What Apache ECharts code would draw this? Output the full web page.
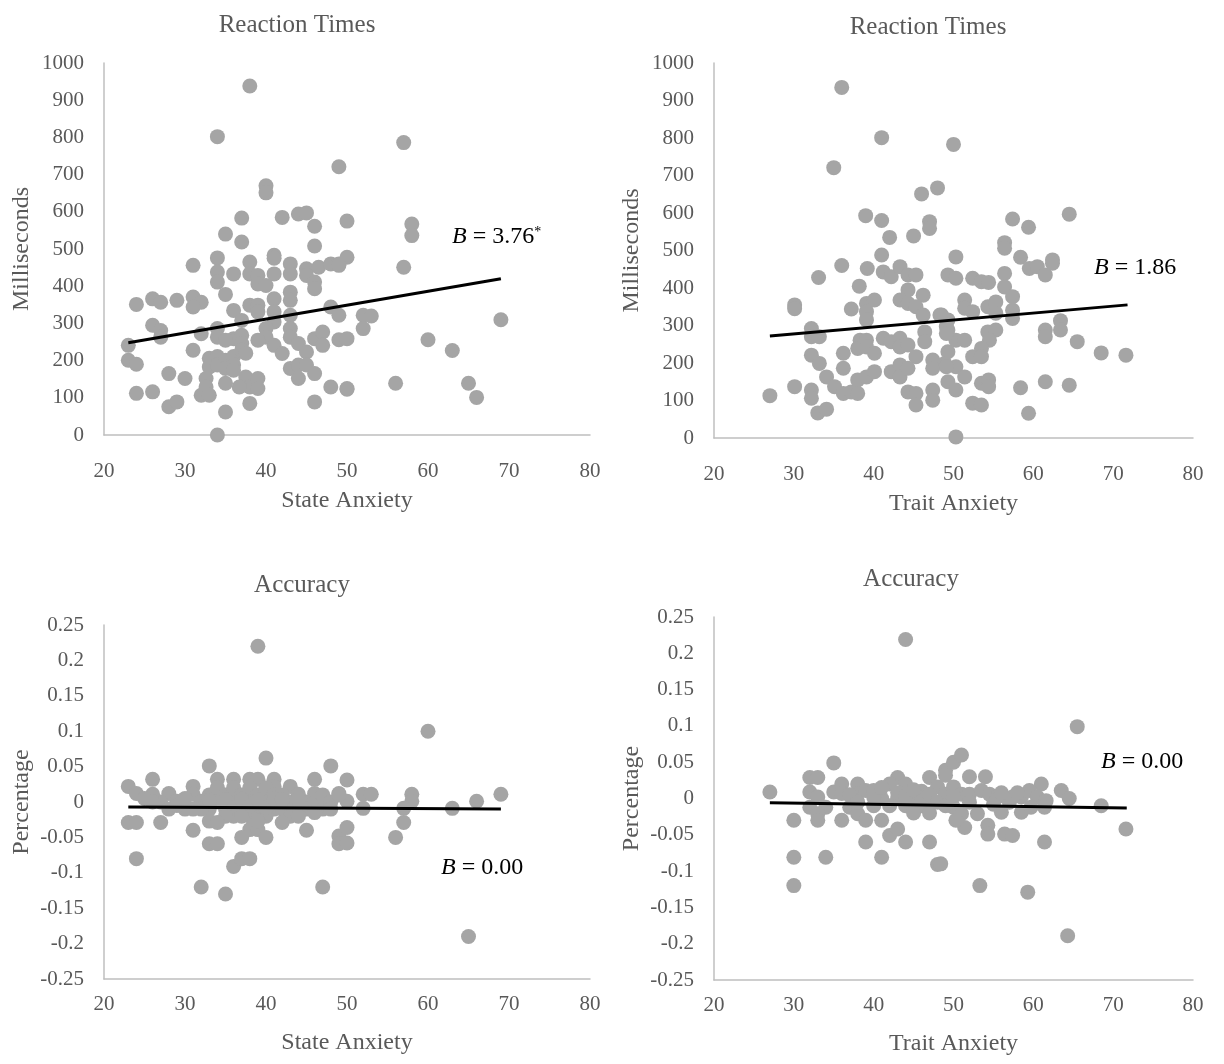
<!DOCTYPE html>
<html><head><meta charset="utf-8">
<script src="https://cdn.jsdelivr.net/npm/echarts@6/dist/echarts.min.js"></script>
<style>html,body{margin:0;padding:0;background:#fff}#c{width:1224px;height:1064px}</style>
</head><body><div id="c"></div>
<script>
// State anxiety vs reaction time (ms)
const stateRT = [[38,938],[34,802],[57,786],[49,721],[40,670],[40,651],[37,583],[42,585],[44,594],[45,597],[46,561],[50,575],[35,540],[37,519],[46,508],[58,567],[58,536],[34,476],[38,465],[41,483],[41,475],[43,460],[45,447],[46.5,451],[48,460],[49,460],[50,478],[49,456],[57,451],[31,456],[34,438],[36,433],[38,433],[39,429],[41,433],[43,433],[45,429],[34,411],[39,406],[40,402],[46,411],[46,393],[43,384],[43,362],[35,378],[41,366],[26,366],[27,357],[29,362],[31,371],[32,357],[31,344],[24,351],[36,335],[38,349],[39,349],[39,331],[41,331],[43,322],[48,344],[49,322],[52,322],[53,320],[52,286],[69,310],[49,256],[50,259],[60,256],[63,227],[50,123],[56,139],[65,139],[66,101],[37,308],[41,304],[26,295],[27,281],[27,263],[32,272],[34,286],[34,263],[36,259],[37,268],[37,246],[35,255],[40,286],[40,263],[39,255],[41,241],[42,219],[43,286],[43,263],[44,246],[45,223],[46,259],[47,277],[47,241],[23,241],[23,201],[24,190],[31,228],[33,206],[33,183],[34,211],[34,188],[35,201],[35,179],[36,211],[36,188],[36,174],[37,228],[37.5,220],[32.6,152],[32.6,129],[32,107],[33,107],[35,139],[37.5,156],[38,129],[39,152],[39,125],[36.7,129],[38,85],[35,62],[34,0],[28,165],[30,152],[24,112],[26,116],[28,76],[29,89],[43,179],[44,188],[44,152],[45,188],[46,165],[46,89],[48,129],[50,125]];
// Trait anxiety vs reaction time (ms)
const traitRT = [[36,935],[41,801],[35,721],[48,667],[46,651],[39,593],[41,580],[47,577],[47,559],[42,535],[45,539],[41,488],[36,460],[50,783],[57.4,584],[59.4,562],[64.5,597],[56.4,521],[56.4,506],[50.3,483],[58.4,482],[62.4,475],[59.5,452],[60.5,457],[61.5,435],[62.4,466],[49.3,435],[50.3,426],[52.4,426],[53.5,417],[54.4,415],[56.4,439],[56.4,403],[57.4,377],[51.4,368],[51.4,346],[52.4,337],[54.3,350],[55.3,363],[55.3,333],[57.4,341],[57.4,319],[48.5,328],[49.3,315],[49.3,288],[63.4,313],[63.4,288],[61.5,288],[61.5,270],[65.5,257],[68.5,227],[71.6,221],[54.3,283],[55.3,288],[54.5,261],[53.5,239],[52.4,217],[53.5,217],[50.3,261],[51.4,261],[49.3,230],[48.9,199],[50.3,190],[51.4,163],[49.3,150],[50.3,128],[53.5,146],[54.4,155],[54.4,137],[52.4,93],[53.5,88],[58.4,134],[61.5,150],[64.5,141],[59.4,66],[50.3,3],[39.2,452],[41.2,443],[42.2,430],[43.3,457],[44.3,435],[45.3,435],[33.1,428],[38.2,405],[44.3,395],[46.2,381],[43.3,368],[44.3,359],[45.3,350],[39.1,359],[40.1,368],[39.1,337],[39.1,315],[37.2,344],[30.1,355],[30.1,345],[46.2,328],[48.3,328],[49.1,297],[49.1,279],[32.2,292],[32.2,270],[33.2,270],[38.3,261],[38,239],[39.1,261],[39.1,243],[40.1,226],[41.2,266],[42.2,257],[43.3,266],[43.3,243],[44.3,248],[45.3,217],[46.4,283],[46.4,257],[47.4,208],[47.4,186],[49.1,190],[32.2,221],[33.2,199],[36.2,226],[36.2,186],[34.1,163],[35.1,137],[36.2,119],[37.2,123],[38,155],[39.1,163],[40.1,177],[38,119],[42.2,177],[43.3,195],[43.3,163],[44.3,186],[30.1,137],[27,113],[32.2,128],[32.2,106],[33,67],[34.1,77],[44.3,123],[45.3,119],[45.3,88],[47.4,128],[47.4,101]];
// State anxiety vs accuracy change
const stateAcc = [[39,0.22],[40,0.062],[33,0.051],[48,0.051],[23,0.022],[24,0.012],[26,0.032],[26,0.011],[28,0.012],[29,0.001],[31,0.022],[31,0.011],[32,0.001],[34,0.032],[36,0.032],[38,0.032],[39,0.032],[41,0.032],[41,0.022],[46,0.032],[43,0.022],[44,0.011],[46,0.012],[50,0.031],[49,0.012],[27,0],[28,-0.01],[30,-0.01],[33,0.01],[33,-0.01],[34,0.02],[34,0],[35,0.01],[35,-0.01],[36,0.02],[36,0],[37,0.01],[37,-0.01],[38,0.02],[38,0],[39,0.01],[39,-0.01],[40,0.02],[40,0],[41,0.01],[41,-0.01],[42,0.01],[42,-0.01],[43,0],[44,-0.01],[45,0],[45,-0.01],[46,0],[47,0.01],[47,-0.01],[48,0],[36,-0.02],[38,-0.02],[40,-0.02],[43,-0.02],[32,-0.01],[26,0],[25,0.005],[29,-0.005],[31,-0.01],[33,0.002],[35,0.003],[36,-0.008],[37,0.004],[38,-0.006],[39,0.003],[40,-0.008],[41,0.004],[42,0.003],[44,0.005],[44,-0.02],[46,-0.015],[48,-0.01],[35,-0.02],[30,0.005],[23,-0.029],[24,-0.029],[27,-0.029],[31,-0.04],[33,-0.027],[34,-0.029],[37,-0.02],[38,-0.039],[37,-0.05],[39,-0.039],[40,-0.05],[39,-0.027],[42,-0.029],[45,-0.04],[49,-0.048],[49,-0.059],[50,-0.036],[50,-0.058],[33,-0.059],[34,-0.059],[24,-0.08],[36,-0.091],[37,-0.08],[38,-0.08],[32,-0.12],[35,-0.13],[47,-0.12],[60,0.10],[52,0.011],[53,0.011],[52,-0.009],[50,0.001],[49,0.01],[58,0.011],[58,0.001],[57,-0.009],[57,-0.029],[56,-0.05],[63,-0.009],[66,0.001],[69,0.011],[65,-0.19]];
// Trait anxiety vs accuracy change
const traitAcc = [[44,0.219],[35,0.049],[32,0.029],[33,0.029],[27,0.009],[32,0.009],[33,0.002],[34,-0.012],[32,-0.012],[33,-0.021],[30,-0.03],[33,-0.03],[35,0.009],[36,0.02],[36,0.007],[38,0.02],[38,0.007],[39,0.011],[40,0.011],[36,-0.03],[37,-0.012],[38,-0.021],[39,-0.03],[41,-0.03],[42,-0.051],[43,-0.042],[39,-0.06],[44,-0.06],[47,-0.06],[41,-0.081],[30,-0.081],[34,-0.081],[48,-0.091],[30,-0.12],[43,0.029],[47,0.029],[49,0.039],[50,0.05],[65.5,0.099],[51,0.06],[49,0.032],[52,0.03],[54,0.03],[61,0.02],[63.5,0.011],[64.5,0],[68.5,-0.01],[71.6,-0.042],[61.4,-0.06],[53.3,-0.12],[59.3,-0.129],[48.4,-0.09],[48,0.016],[49,0.006],[50,0.016],[51,0.006],[52,0.006],[53.5,0.011],[54.5,0.006],[55.5,0.002],[57.4,0.002],[58.5,0.002],[59.5,0.011],[60.5,0.002],[61.6,-0.003],[50,-0.012],[51,-0.021],[53,-0.021],[56,-0.019],[58.5,-0.019],[59.7,-0.012],[61.4,-0.012],[51.4,-0.04],[54.3,-0.037],[54.3,-0.049],[56.4,-0.049],[57.4,-0.051],[50.3,-0.03],[64.3,-0.189],[41,0],[42,-0.01],[43,0],[44,-0.01],[45,0],[46,-0.01],[47,0],[40,-0.01],[46,0.01],[44,0.02],[42,0.02],[47,-0.02],[45,-0.02],[37,0.005],[38,-0.005],[40,0.002],[41,0.015],[43,0.008],[44,0.003],[45,0.012],[46,-0.004],[47,0.006],[48,-0.005],[49,-0.01],[50,0.003],[52,-0.005],[55,-0.008],[57,-0.005],[56,0.008],[58,0.008]];

// Linear trend line endpoints
const trendStateRT = [[23,248],[69,420]];
const trendTraitRT = [[27,272],[71.8,355]];
const trendStateAcc = [[23,-0.007],[69,-0.010]];
const trendTraitAcc = [[27,-0.006],[71.7,-0.013]];

const titles = ['Reaction Times','Reaction Times','Accuracy','Accuracy'];
const xNames = ['State Anxiety','Trait Anxiety','State Anxiety','Trait Anxiety'];
const yNames = ['Milliseconds','Milliseconds','Percentage','Percentage'];
const coefs = ['3.76','1.86','0.00','0.00'];
const coefStars = ['*','','',''];
const xRange = [20, 80, 10];
const rtRange = [0, 1000, 100];
const accRange = [-0.25, 0.25, 0.05];

const FONT = '"Liberation Serif", "Times New Roman", serif';
const GRAY = '#595959';
const PT = '#a5a5a5';

const grids = [
  {left:104, top:63, width:486, height:372},
  {left:714, top:63, width:479, height:375},
  {left:104, top:625, width:486, height:354},
  {left:714, top:617, width:479, height:363}
];
const titlePos = [[297,25],[928,27],[302,585],[911,579]];
const coefPos = [[452,237],[1094,268],[441,868],[1101,762]];
const yRanges = [rtRange, rtRange, accRange, accRange];
const sets = [stateRT, traitRT, stateAcc, traitAcc];
const trends = [trendStateRT, trendTraitRT, trendStateAcc, trendTraitAcc];

const fmt = v => String(Math.round(v*100)/100);

const option = {
  backgroundColor:'#fff',
  animation:false,
  grid: grids.map(g => Object.assign({containLabel:false}, g)),
  xAxis: grids.map((g,i) => ({
    gridIndex:i, type:'value', min:xRange[0], max:xRange[1], interval:xRange[2],
    name:xNames[i], nameLocation:'middle', nameGap: i<2 ? 54 : 52,
    nameTextStyle:{fontFamily:FONT, fontSize:24, color:GRAY},
    axisLine:{show:true, onZero:false, lineStyle:{color:'#bfbfbf', width:1.5}},
    axisTick:{show:false}, splitLine:{show:false},
    axisLabel:{fontFamily:FONT, fontSize:21, color:GRAY, margin: i<2 ? 26 : 15, formatter: fmt}
  })),
  yAxis: grids.map((g,i) => ({
    gridIndex:i, type:'value', min:yRanges[i][0], max:yRanges[i][1], interval:yRanges[i][2],
    name:yNames[i], nameLocation:'middle', nameGap: 70,
    nameTextStyle:{fontFamily:FONT, fontSize:24, color:GRAY},
    axisLine:{show:true, onZero:false, lineStyle:{color:'#bfbfbf', width:1.5}},
    axisTick:{show:false}, splitLine:{show:false},
    axisLabel:{fontFamily:FONT, fontSize:21, color:GRAY, margin:20, formatter: fmt}
  })),
  series: [].concat(
    sets.map((d,i) => ({type:'scatter', xAxisIndex:i, yAxisIndex:i, data:d, symbol:'circle', symbolSize:15,
      itemStyle:{color:PT, opacity:1}, z:2, silent:true})),
    trends.map((d,i) => ({type:'line', xAxisIndex:i, yAxisIndex:i, data:d, symbol:'none',
      lineStyle:{color:'#000', width:3}, z:3, silent:true}))
  ),
  graphic: [].concat(
    titles.map((t,i) => ({type:'text', x:titlePos[i][0], y:titlePos[i][1],
      style:{text:t, align:'center', verticalAlign:'middle', font:'25px '+FONT, fill:GRAY}})),
    coefs.map((c,i) => ({type:'text', x:coefPos[i][0], y:coefPos[i][1],
      style:{text:'{i|B} = '+c+(coefStars[i] ? '{s|'+coefStars[i]+'}' : ''), align:'left', verticalAlign:'middle',
        font:'24px '+FONT, fill:'#000',
        rich:{i:{fontStyle:'italic', fontSize:24, fontFamily:FONT, fill:'#000'},
              s:{fontSize:14, fontFamily:FONT, verticalAlign:'top', fill:'#000'}}}}))
  )
};
const chart = echarts.init(document.getElementById('c'), null, {renderer:'canvas'});
chart.setOption(option);
</script>
</body></html>
